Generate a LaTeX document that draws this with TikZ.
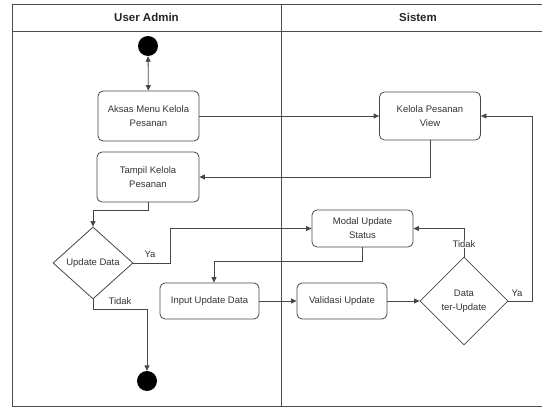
\documentclass[tikz,border=0pt]{standalone}
\usepackage{fontspec}
\setmainfont{Liberation Sans}
\usetikzlibrary{arrows.meta,shapes.geometric}
\begin{document}
\begin{tikzpicture}[x=1pt,y=-1pt,
  ink/.style={draw=black!72, line width=0.8pt},
  flow/.style={ink, -{Triangle[length=5.5pt,width=5pt]}},
  both/.style={ink, {Triangle[length=5.5pt,width=5pt]}-{Triangle[length=5.5pt,width=5pt]}},
  txt/.style={font=\fontsize{9.5}{14}\selectfont, text=black!80},
  act/.style={ink, txt, rounded corners=5pt, align=center, inner sep=0pt},
  dec/.style={ink, txt, diamond, align=center, inner sep=0pt},
  dot/.style={circle, fill=black, draw=none, minimum size=20pt, inner sep=0pt},
  lbl/.style={txt, inner sep=1pt},
  head/.style={font=\bfseries\fontsize{11.5}{14}\selectfont, text=black!85},
  lane/.style={draw=black!70, line width=0.8pt}
]
\useasboundingbox (0,0) rectangle (542,409);

% swimlanes
\draw[lane] (12,406) -- (12,4) -- (542,4);
\draw[lane] (12,31) -- (542,31);
\draw[lane] (12,406) -- (542,406);
\draw[lane] (281,4) -- (281,406);
\node[head] (hUser) at (146.5,17.5) {User Admin};
\node[head] (hSis) at (418,17.5) {Sistem};

% activities
\node[dot] (start) at (148,46) {};
\node[act, minimum width=101pt, minimum height=50pt] (aksas) at (148.5,116) {Aksas Menu Kelola\\Pesanan};
\node[act, minimum width=101pt, minimum height=48pt] (kelola) at (430,116) {Kelola Pesanan\\View};
\node[act, minimum width=102pt, minimum height=50pt] (tampil) at (148,177) {Tampil Kelola\\Pesanan};
\node[dec, minimum width=80pt, minimum height=72pt] (upd) at (93,263) {Update Data};
\node[act, minimum width=101pt, minimum height=37pt] (modal) at (362.5,228.5) {Modal Update\\Status};
\node[act, minimum width=99pt, minimum height=36pt] (input) at (209.5,301) {Input Update Data};
\node[act, minimum width=90pt, minimum height=36pt] (valid) at (342,301) {Validasi Update};
\node[dec, minimum width=88pt, minimum height=88pt] (dupd) at (464,301) {Data\\ter-Update};
\node[dot] (endc) at (147,381) {};

% helper coordinates for bends
\coordinate (yaTurn) at (170,0);
\coordinate (tkRow) at (0,309);
\coordinate (rgt) at (532,0);

% connectors
\draw[both] (start) -- (aksas);
\draw[flow] (aksas.east) -- (aksas.east -| kelola.west);
\draw[flow] (kelola.south) |- (tampil.east);
\draw[flow] (tampil.south) -- ++(0,8) -| (upd.north);
\draw[flow] (upd.east) -| (yaTurn |- modal.west) -- (modal.west);
\draw[flow] (upd.south) |- (tkRow -| endc) -- (endc);
\draw[flow] (modal.south) -- ++(0,14) -| ([xshift=4.5pt]input.north);
\draw[flow] (input.east) -- (valid.west);
\draw[flow] (valid.east) -- (dupd.west);
\draw[flow] (dupd.north) |- (modal.east);
\draw[flow] (dupd.east) -| (rgt |- kelola.east) -- (kelola.east);

% guard labels
\node[lbl] (ya1) at (150,254) {Ya};
\node[lbl] (tidak1) at (120,301) {Tidak};
\node[lbl] (ya2) at (517,293) {Ya};
\node[lbl, fill=white] (tidak2) at (464,244) {Tidak};
\end{tikzpicture}
\end{document}
